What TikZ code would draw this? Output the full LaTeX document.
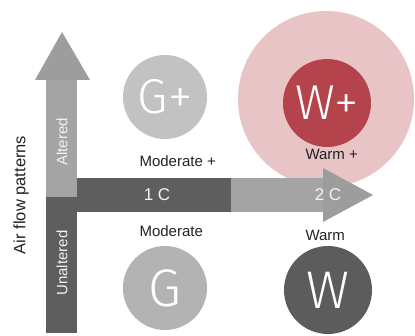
\documentclass[tikz,border=0pt]{standalone}
\usepackage{fontspec}
\setmainfont{Liberation Sans}
\newfontfamily\thinfont{Fira Sans Light}
\definecolor{darkbar}{HTML}{5E5E5E}
\definecolor{lightbar}{HTML}{A4A4A4}
\definecolor{headgray}{HTML}{9D9D9D}
\definecolor{gplus}{HTML}{C2C2C2}
\definecolor{gbase}{HTML}{B3B3B3}
\definecolor{wbase}{HTML}{5C5C5C}
\definecolor{wplus}{HTML}{B5434B}
\definecolor{halo}{HTML}{E9C4C6}
\definecolor{labeltext}{HTML}{222222}

\begin{document}
\begin{tikzpicture}[x=1pt,y=-1pt,
    zone/.style={circle,inner sep=0pt,text=white,font=\thinfont\fontsize{49}{49}\selectfont},
    barlabel/.style={text=white!90!gray,font=\fontsize{15}{15}\selectfont},
    steplabel/.style={text=white!92!gray,font=\fontsize{17}{17}\selectfont},
    caption/.style={text=labeltext,anchor=west,font=\fontsize{15}{15}\selectfont}]
  \useasboundingbox (0,0) rectangle (415,336);

  % warming halo behind the top right zone
  \node[zone,fill=halo,minimum size=176pt] (halo) at (326,99) {};

  % vertical arrow: air flow
  \fill[lightbar] (46,80) rectangle (77,197);
  \fill[darkbar] (46,197) rectangle (77,333);
  \fill[headgray] (35,80) -- (62,32) -- (90,80) -- cycle;

  % horizontal arrow: temperature
  \fill[darkbar] (77,178) rectangle (231,212);
  \fill[lightbar] (231,178) rectangle (323,212);
  \fill[headgray] (323,168) -- (373,195) -- (323,222) -- cycle;

  % zones
  \node[zone,fill=gplus,minimum size=84pt] (gplus) at (165,97) {G+};
  \node[zone,fill=wplus,minimum size=88pt] (wplus) at (327,103) {W+};
  \node[zone,fill=gbase,minimum size=84pt,font=\thinfont\fontsize{53}{53}\selectfont] (gbase) at (165,288) {G};
  \node[zone,fill=wbase,minimum size=88pt,font=\thinfont\fontsize{53}{53}\selectfont] (wbase) at (328,290) {W};

  % captions
  \node[caption] (modplus) at (136,161) {Moderate +};
  \node[caption] (mod) at (136,231) {Moderate};
  \node[caption] (warmplus) at (302,154) {Warm +};
  \node[caption] (warm) at (302,235) {Warm};

  % axis labels
  \node[barlabel,rotate=90] (altered) at (62,142) {Altered};
  \node[barlabel,rotate=90] (unaltered) at (62,263) {Unaltered};
  \node[rotate=90,text=labeltext,font=\fontsize{16.5}{16.5}\selectfont] (airflow) at (21,195) {Air flow patterns};
  \node[steplabel] (one) at (157,195) {1 C};
  \node[steplabel] (two) at (328,195) {2 C};
\end{tikzpicture}
\end{document}
